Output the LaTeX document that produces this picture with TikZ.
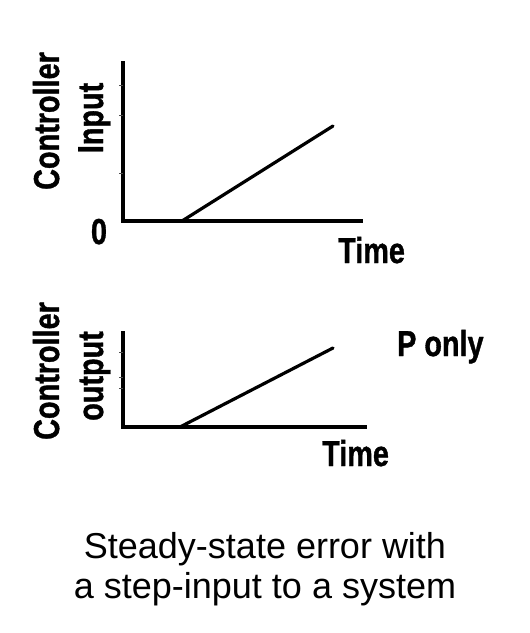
\documentclass[tikz,border=0pt]{standalone}
\usepackage{fontspec}
\usepackage{graphicx}
\setmainfont{Liberation Sans}
\newfontfamily\heavyfont[FakeBold=1.2]{Liberation Sans Bold}
\tikzset{
  axisline/.style={line width=3.2pt, line cap=rect},
  ramp/.style={line width=3.2pt, line cap=round},
  tickmark/.style={line width=0.8pt, black!70},
  lbl/.style={inner sep=0pt, font=\fontsize{36}{36}\heavyfont},
  captext/.style={inner sep=0pt, font=\fontsize{36}{40}\selectfont},
}
\newcommand{\cnd}[1]{\scalebox{0.8}[1]{#1}}
\begin{document}
\begin{tikzpicture}[x=1pt,y=-1pt]
\useasboundingbox[fill=white] (0,0) rectangle (530,633);
% ---- top plot
\coordinate (t0) at (123,221);
\coordinate (ttop) at (123,63);
\coordinate (tend) at (361,221);
\coordinate (ts) at (182,221);
\coordinate (te) at (333,126);
\draw[axisline] (ttop) -- (t0) -- (tend);
\draw[ramp] (ts) -- (te);
\foreach \yy in {85,115,173} \draw[tickmark] (119,\yy) -- (123,\yy);
\node[lbl, rotate=90, anchor=base] (tc) at (59,121) {\cnd{Controller}};
\node[lbl, rotate=90, anchor=base] (ti) at (103,118) {\cnd{Input}};
\node[lbl, anchor=base] (tz) at (99,244) {\cnd{0}};
\node[lbl, anchor=base west] (tt) at (338,263) {\cnd{Time}};
% ---- bottom plot
\coordinate (b0) at (123,427);
\coordinate (btop) at (123,333);
\coordinate (bend) at (365,427);
\coordinate (bs) at (180,427);
\coordinate (be) at (333,348);
\draw[axisline] (btop) -- (b0) -- (bend);
\draw[ramp] (bs) -- (be);
\foreach \yy in {352,377,388} \draw[tickmark] (119,\yy) -- (123,\yy);
\node[lbl, rotate=90, anchor=base] (bc) at (59,371) {\cnd{Controller}};
\node[lbl, rotate=90, anchor=base] (bo) at (103,376) {\cnd{output}};
\node[lbl, anchor=base west] (bp) at (397,356) {\cnd{P only}};
\node[lbl, anchor=base west] (bt) at (322,466) {\cnd{Time}};
% ---- caption
\node[captext, anchor=base] (c1) at (265,558) {Steady-state error with};
\node[captext, anchor=base] (c2) at (265,598) {a step-input to a system};
\end{tikzpicture}
\end{document}
